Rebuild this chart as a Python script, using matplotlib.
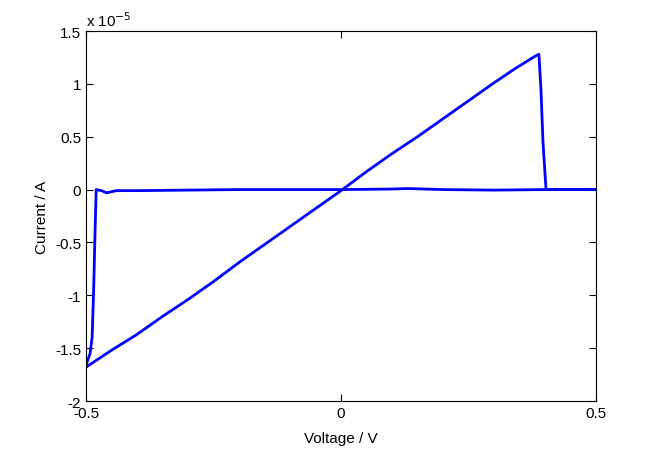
import matplotlib
matplotlib.use("Agg")
import matplotlib.pyplot as plt
from matplotlib.ticker import FuncFormatter

plt.rcParams['font.family'] = ['Liberation Sans', 'DejaVu Sans']

# Voltage (V) and current (units of 1e-5 A)
v_fwd = [-0.5, -0.45, -0.4, -0.35, -0.3, -0.25, -0.2, -0.15, -0.1, -0.05, 0.0, 0.05,
         0.1, 0.15, 0.2, 0.25, 0.3, 0.34, 0.36, 0.38, 0.388]
i_fwd = [-1.68, -1.52, -1.37, -1.20, -1.04, -0.87, -0.69, -0.52, -0.35, -0.18, -0.01, 0.17,
         0.34, 0.50, 0.67, 0.84, 1.01, 1.14, 1.20, 1.26, 1.28]
v_drop = [0.388, 0.392, 0.396, 0.402, 0.45, 0.5]
i_drop = [1.28, 0.95, 0.45, 0.0, 0.0, 0.0]
v_rev = [0.5, 0.4, 0.3, 0.2, 0.13, 0.1, 0.0, -0.1, -0.2, -0.3, -0.4, -0.44, -0.46, -0.47, -0.48]
i_rev = [0.0, 0.0, -0.005, 0.0, 0.01, 0.005, 0.0, 0.0, 0.0, -0.005, -0.01, -0.01, -0.03, -0.01, 0.0]
v_tail = [-0.48, -0.482, -0.485, -0.488, -0.492, -0.497, -0.5]
i_tail = [0.0, -0.35, -0.95, -1.40, -1.55, -1.62, -1.66]

scale = 1e-5
xticks = [-0.5, 0, 0.5]
xticklabels = ['-0.5', '0', '0.5']
yticks = [-2, -1.5, -1, -0.5, 0, 0.5, 1, 1.5]

fig = plt.figure(figsize=(6.58, 4.52), dpi=100)
ax = fig.add_axes([0.1307, 0.1106, 0.7751, 0.8186])

V = v_fwd + v_drop[1:] + v_rev[1:] + v_tail[1:]
I = [x * scale for x in (i_fwd + i_drop[1:] + i_rev[1:] + i_tail[1:])]
ax.plot(V, I, color='#0000ff', lw=2)

ax.set_xlim(-0.5, 0.5)
ax.set_ylim(-2e-5, 1.5e-5)
ax.set_xticks(xticks)
ax.set_xticklabels(xticklabels)
ax.set_yticks([y * scale for y in yticks])
ax.yaxis.set_major_formatter(FuncFormatter(lambda y, p: ('%g' % round(y / scale, 3))))
ax.tick_params(direction='in', top=True, right=True, length=5, labelsize=11, width=0.8)
for s in ax.spines.values():
    s.set_linewidth(0.8)
ax.set_xlabel('Voltage / V', fontsize=11, labelpad=8)
ax.set_ylabel('Current / A', fontsize=11, labelpad=4)
ax.text(0.0, 1.005, r'x 10$^{-5}$', transform=ax.transAxes, fontsize=11, ha='left', va='bottom')

fig.savefig('out.png', dpi=100)
